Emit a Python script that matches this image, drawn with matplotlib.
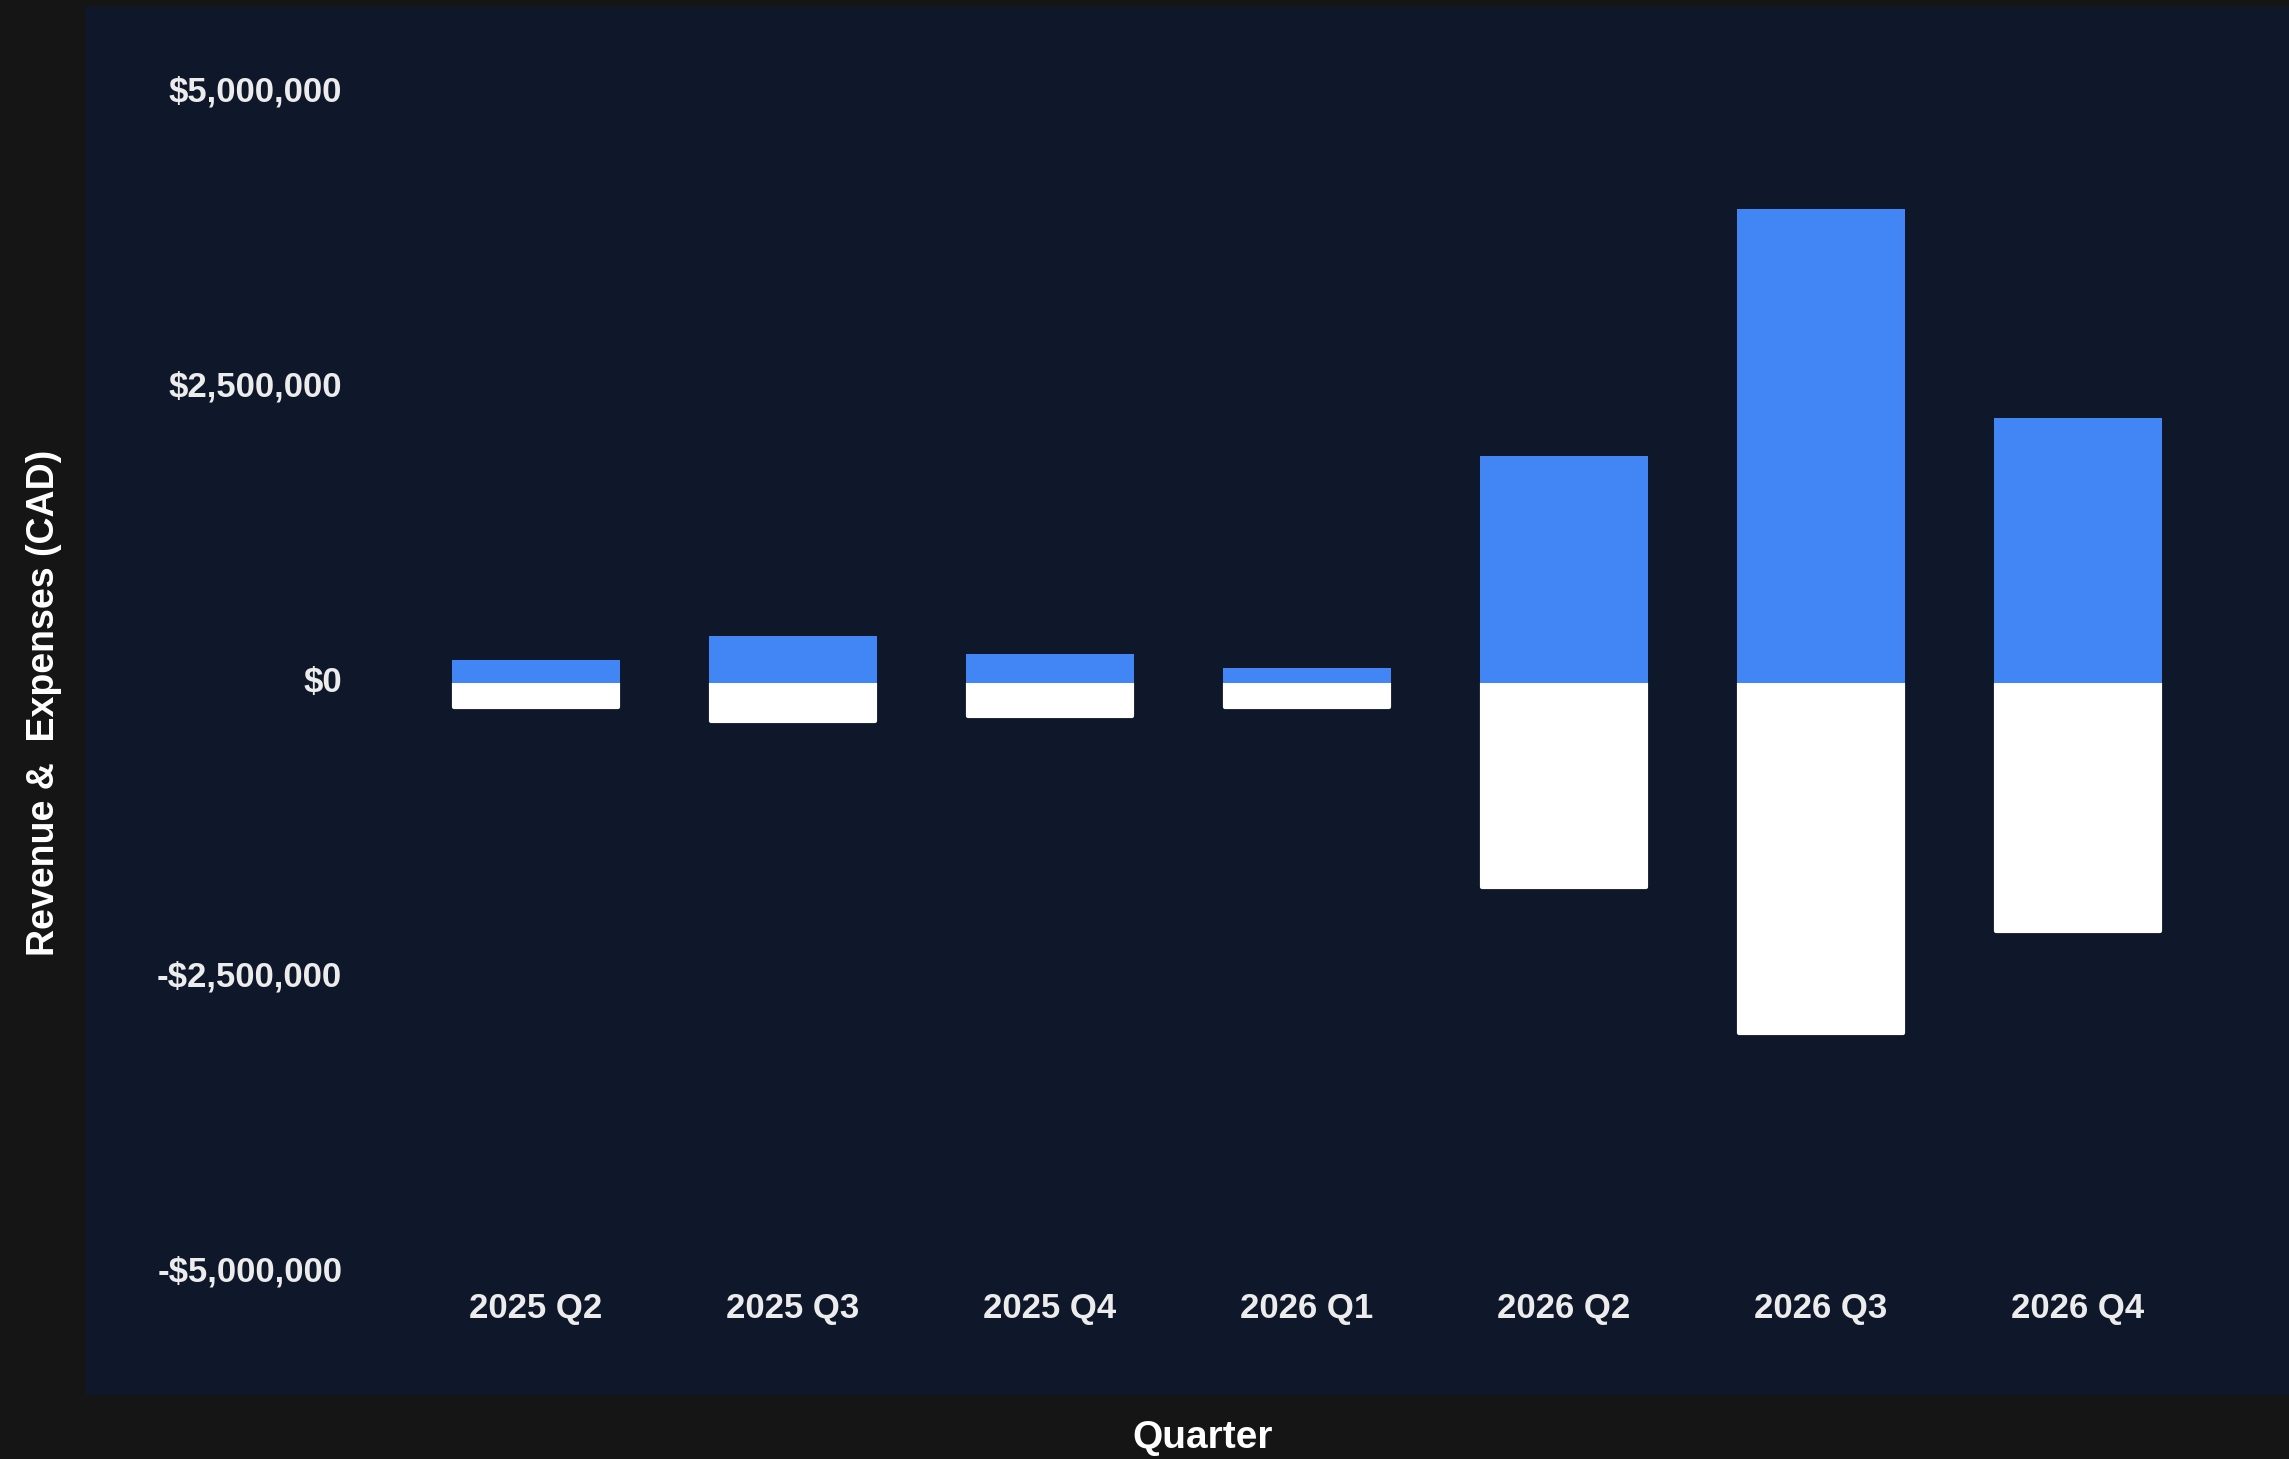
import matplotlib
matplotlib.use("Agg")
import matplotlib.pyplot as plt
import matplotlib.transforms as mtransforms
from matplotlib.patches import Rectangle
from matplotlib.ticker import FuncFormatter

quarters = ["2025 Q2", "2025 Q3", "2025 Q4", "2026 Q1", "2026 Q2", "2026 Q3", "2026 Q4"]
revenue = [195000, 400000, 250000, 125000, 1920000, 4020000, 2250000]
expenses = [200000, 325000, 280000, 205000, 1730000, 2970000, 2100000]
y_ticks = [-5000000, -2500000, 0, 2500000, 5000000]

plt.rcParams["font.family"] = ["Liberation Sans", "DejaVu Sans"]

W, H = 2289, 1459
fig = plt.figure(figsize=(W / 100, H / 100), dpi=100)
fig.patch.set_facecolor("#151515")

# dark navy panel
panel = Rectangle((85 / W, 1 - 1395 / H), 1 - 85 / W, (1395 - 7) / H,
                  transform=fig.transFigure, facecolor="#0f172a", edgecolor="none", zorder=-10)
fig.patches.append(panel)

ax = fig.add_axes([407.5 / W, 1 - 1273 / H, 1799 / W, 1180 / H])
ax.set_facecolor("none")
ax.set_zorder(5)

x = list(range(len(quarters)))
neg_exp = [-e for e in expenses]
ax.bar(x, neg_exp, width=0.64, color="#ffffff", edgecolor="#ffffff",
       linewidth=3, joinstyle="round", zorder=2)
ax.bar(x, revenue, width=0.65, color="#4285f4", zorder=3)

ax.set_xlim(-0.5, len(quarters) - 0.5)
ax.set_ylim(-5000000, 5000000)
ax.set_xticks(x)
ax.set_xticklabels(quarters)
ax.set_yticks(y_ticks)

def fmt(v, pos):
    if v < 0:
        return "-${:,.0f}".format(-v)
    return "${:,.0f}".format(v)

ax.yaxis.set_major_formatter(FuncFormatter(fmt))
ax.tick_params(axis="both", length=0, colors="#ececec", labelsize=25)
ax.tick_params(axis="y", pad=47)
ax.tick_params(axis="x", pad=14)
for lbl in ax.get_xticklabels() + ax.get_yticklabels():
    lbl.set_fontweight("bold")
shift = mtransforms.ScaledTranslation(0, 3 / 72, fig.dpi_scale_trans)
for lbl in ax.get_yticklabels():
    lbl.set_transform(lbl.get_transform() + shift)
for s in ax.spines.values():
    s.set_visible(False)

fig.text(44 / W, 1 - 703 / H, "Revenue &  Expenses (CAD)", rotation=90,
         ha="center", va="center", color="white", fontsize=27, fontweight="bold")
fig.text(1203 / W, 1 - 1438 / H, "Quarter", ha="center", va="center",
         color="white", fontsize=28, fontweight="bold")

fig.savefig("out.png", dpi=100, facecolor=fig.get_facecolor())
